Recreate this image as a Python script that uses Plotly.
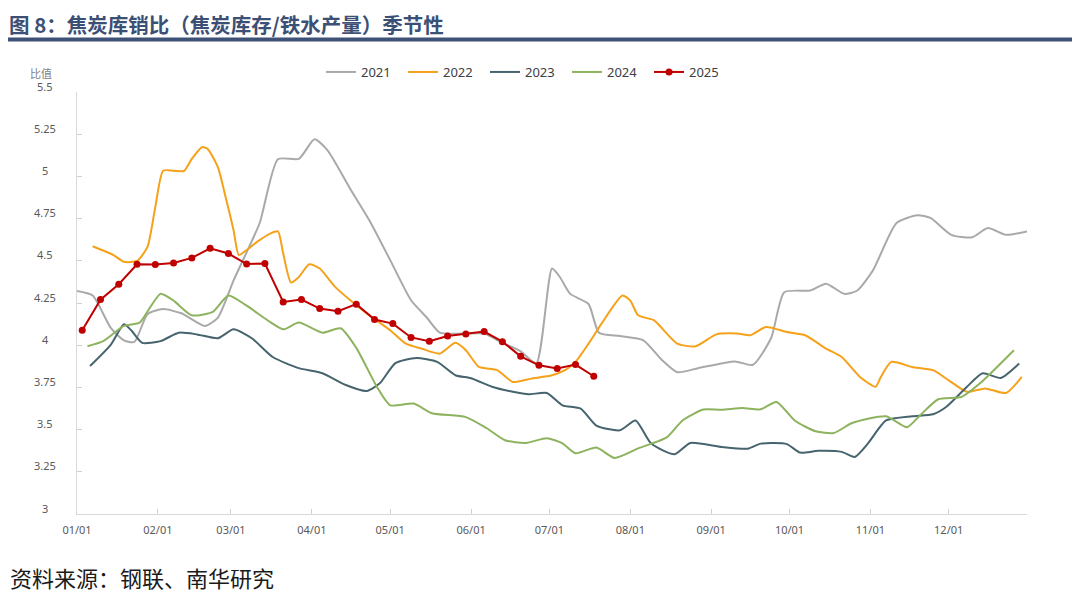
import plotly.graph_objects as go

# ---------------- data ----------------
BASE_YEAR = "2001"

dates_2021 = ["01-01","01-07","01-14","01-19","01-23","01-28","02-03","02-10","02-19","02-24",
              "03-02","03-05","03-12","03-19","03-27","04-02","04-07","04-16","04-23","05-01",
              "05-09","05-15","05-20","05-29","06-06","06-13","06-20","06-26","07-02","07-05",
              "07-09","07-16","07-20","07-28","08-06","08-13","08-19","08-27","09-10","09-17",
              "09-24","09-29","10-09","10-15","10-22","10-27","11-02","11-11","11-19","11-24",
              "12-02","12-10","12-16","12-23","12-31"]
values_2021 = [4.321,4.294,4.101,4.029,4.019,4.184,4.214,4.189,4.114,4.164,
               4.384,4.484,4.724,5.102,5.104,5.220,5.154,4.918,4.740,4.504,
               4.266,4.164,4.074,4.069,4.069,4.014,3.964,3.894,4.454,4.404,
               4.304,4.244,4.074,4.054,4.029,3.914,3.840,3.864,3.904,3.884,
               4.044,4.314,4.324,4.364,4.304,4.324,4.444,4.724,4.770,4.754,
               4.654,4.639,4.694,4.654,4.674]

dates_2022 = ["01-07","01-15","01-19","01-24","01-28","01-31","02-03","02-07","02-11","02-14",
              "02-18","02-20","02-24","02-27","03-02","03-04","03-07","03-11","03-16","03-19",
              "03-21","03-24","03-27","03-31","04-04","04-10","04-17","04-23","05-01","05-07",
              "05-13","05-20","05-26","05-30","06-04","06-11","06-17","06-24","07-02","07-07",
              "07-11","07-16","07-21","07-29","08-01","08-04","08-10","08-19","08-26","09-03",
              "09-11","09-16","09-22","09-30","10-07","10-15","10-21","10-28","11-03","11-05",
              "11-09","11-17","11-25","12-01","12-08","12-15","12-23","12-29"]
values_2022 = [4.586,4.534,4.494,4.499,4.582,4.819,5.034,5.034,5.032,5.104,
               5.174,5.164,5.054,4.874,4.681,4.534,4.564,4.612,4.661,4.674,
               4.544,4.371,4.404,4.479,4.454,4.344,4.250,4.177,4.089,4.009,
               3.980,3.950,4.014,3.970,3.871,3.852,3.782,3.802,3.822,3.852,
               3.901,4.009,4.128,4.294,4.264,4.177,4.148,4.009,3.994,4.064,
               4.069,4.059,4.108,4.078,4.059,3.980,3.930,3.812,3.754,3.812,
               3.901,3.871,3.852,3.792,3.724,3.744,3.717,3.812]

dates_2023 = ["01-06","01-14","01-19","01-22","01-26","02-02","02-09","02-16","02-24","03-02",
              "03-09","03-17","03-27","04-05","04-14","04-22","04-27","05-03","05-11","05-19",
              "05-26","06-01","06-09","06-17","06-23","06-30","07-06","07-13","07-19","07-28",
              "08-03","08-09","08-18","08-24","09-05","09-15","09-20","09-30","10-05","10-12",
              "10-21","10-26","10-31","11-07","11-17","11-25","11-30","12-08","12-14","12-21",
              "12-28"]
values_2023 = [3.877,4.004,4.124,4.084,4.014,4.024,4.074,4.064,4.041,4.094,
               4.041,3.930,3.864,3.834,3.764,3.729,3.774,3.894,3.924,3.901,
               3.822,3.804,3.754,3.724,3.709,3.717,3.644,3.624,3.524,3.496,
               3.554,3.417,3.354,3.421,3.397,3.387,3.417,3.414,3.364,3.374,
               3.368,3.338,3.417,3.554,3.579,3.591,3.634,3.754,3.834,3.806,
               3.891]

dates_2024 = ["01-05","01-11","01-19","01-25","01-29","02-02","02-07","02-14","02-22","02-28",
              "03-07","03-15","03-21","03-27","04-05","04-12","04-18","04-26","05-01","05-10",
              "05-17","05-30","06-07","06-14","06-22","06-30","07-06","07-11","07-19","07-26",
              "08-04","08-15","08-21","08-29","09-05","09-13","09-20","09-26","10-03","10-11",
              "10-18","10-25","11-07","11-15","11-20","11-27","12-06","12-13","12-26"]
values_2024 = [3.994,4.024,4.114,4.134,4.224,4.304,4.264,4.177,4.197,4.294,
               4.234,4.148,4.094,4.134,4.074,4.100,3.984,3.751,3.644,3.654,
               3.597,3.574,3.508,3.437,3.421,3.449,3.419,3.360,3.394,3.332,
               3.389,3.454,3.554,3.619,3.617,3.628,3.620,3.664,3.554,3.490,
               3.480,3.539,3.579,3.514,3.584,3.680,3.694,3.774,3.970]

dates_2025 = ["01-03","01-10","01-17","01-24","01-31","02-07","02-14","02-21","02-28","03-07",
              "03-14","03-21","03-28","04-04","04-11","04-18","04-25","05-02","05-09","05-16",
              "05-23","05-30","06-06","06-13","06-20","06-27","07-04","07-11","07-18"]
values_2025 = [4.088,4.270,4.361,4.479,4.478,4.487,4.517,4.574,4.543,4.481,
               4.484,4.256,4.270,4.217,4.201,4.243,4.152,4.128,4.046,4.023,
               4.054,4.067,4.081,4.021,3.934,3.881,3.862,3.885,3.816]

month_ticks = ["01-01","02-01","03-01","04-01","05-01","06-01","07-01","08-01","09-01",
               "10-01","11-01","12-01"]
month_labels = ["01/01","02/01","03/01","04/01","05/01","06/01","07/01","08/01","09/01",
                "10/01","11/01","12/01"]
y_ticks = [3, 3.25, 3.5, 3.75, 4, 4.25, 4.5, 4.75, 5, 5.25, 5.5]
y_labels = ["3", "3.25", "3.5", "3.75", "4", "4.25", "4.5", "4.75", "5", "5.25", "5.5"]

title_text = "图 8：焦炭库销比（焦炭库存/铁水产量）季节性"
source_text = "资料来源：钢联、南华研究"
unit_text = "比值"

# ---------------- layout helpers ----------------
# the page puts the figure 8px in from the top-left corner; positions below
# are given in page pixels and converted to figure/paper coordinates
OFF = 8
W, H = 1080, 602
PLOT_LEFT, PLOT_RIGHT, PLOT_TOP, PLOT_BOTTOM = 77, 1027, 92, 514  # page px
L = PLOT_LEFT - OFF
T = PLOT_TOP - OFF
R = W - (PLOT_RIGHT - OFF)
B = H - (PLOT_BOTTOM - OFF)
PW, PH = W - L - R, H - T - B


def px_x(x):
    return (x - OFF - L) / PW


def px_y(y):
    return (H - B - (y - OFF)) / PH


def to_dates(mds):
    return [f"{BASE_YEAR}-{md}" for md in mds]


series = [
    ("2021", dates_2021, values_2021, "#a9a9a9"),
    ("2022", dates_2022, values_2022, "#f5a11a"),
    ("2023", dates_2023, values_2023, "#46646e"),
    ("2024", dates_2024, values_2024, "#8db35e"),
]

fig = go.Figure()
for name, d, v, c in series:
    fig.add_trace(go.Scatter(
        x=to_dates(d), y=v, name=name, mode="lines",
        line=dict(color=c, width=2, shape="spline", smoothing=0.6),
        hoverinfo="skip",
    ))

fig.add_trace(go.Scatter(
    x=to_dates(dates_2025), y=values_2025, name="2025", mode="lines+markers",
    line=dict(color="#c00000", width=2),
    marker=dict(color="#c00000", size=7),
    hoverinfo="skip",
))

tick_font = dict(family="Noto Sans, Open Sans, sans-serif", size=11, color="#595959")

fig.update_layout(
    width=W, height=H,
    margin=dict(l=L, r=R, t=T, b=B),
    paper_bgcolor="white", plot_bgcolor="white",
    showlegend=True,
    legend=dict(
        orientation="h", x=px_x(321), xanchor="left", y=px_y(72), yanchor="middle",
        font=dict(family="Noto Sans, Open Sans, sans-serif", size=13, color="#404040"),
        entrywidth=37, entrywidthmode="pixels", itemwidth=30,
        bgcolor="rgba(0,0,0,0)",
    ),
    xaxis=dict(
        type="date",
        range=[f"{BASE_YEAR}-01-01", f"{BASE_YEAR}-12-31"],
        tickvals=to_dates(month_ticks), ticktext=month_labels,
        ticks="inside", ticklen=5, tickcolor="#d0d0d0",
        showline=True, linecolor="#d9d9d9", linewidth=1,
        showgrid=False, zeroline=False,
        tickfont=tick_font, ticklabelstandoff=6,
    ),
    yaxis=dict(
        range=[3, 5.5],
        tickvals=y_ticks, showticklabels=False,
        ticks="inside", ticklen=5, tickcolor="#d0d0d0",
        showline=True, linecolor="#d9d9d9", linewidth=1,
        showgrid=False, zeroline=False,
    ),
)

annotations = []
for val, lab in zip(y_ticks, y_labels):
    annotations.append(dict(
        x=px_x(45), xref="paper", y=val, yref="y", yshift=6,
        text=lab, showarrow=False, xanchor="center", yanchor="middle",
        font=tick_font,
    ))

annotations.append(dict(
    x=px_x(41), xref="paper", y=px_y(73), yref="paper",
    text=unit_text, showarrow=False, xanchor="center", yanchor="middle",
    font=dict(family="Noto Sans CJK SC", size=11, color="#7f7f7f"),
))
annotations.append(dict(
    x=px_x(8), xref="paper", y=px_y(8), yref="paper",
    text=f"<b>{title_text}</b>", showarrow=False, xanchor="left", yanchor="top",
    borderpad=0,
    font=dict(family="Noto Sans CJK SC", size=20.5, color="#3c4f74"),
))
annotations.append(dict(
    x=px_x(8), xref="paper", y=px_y(577), yref="paper",
    text=source_text, showarrow=False, xanchor="left", yanchor="middle",
    font=dict(family="Noto Sans CJK SC", size=22, color="#1a1a1a"),
))
fig.update_layout(annotations=annotations)

fig.add_shape(
    type="line", xref="paper", yref="paper",
    x0=px_x(0), x1=px_x(W), y0=px_y(39.5), y1=px_y(39.5),
    line=dict(color="#3e5277", width=4),
)

fig.write_html("out.html")
